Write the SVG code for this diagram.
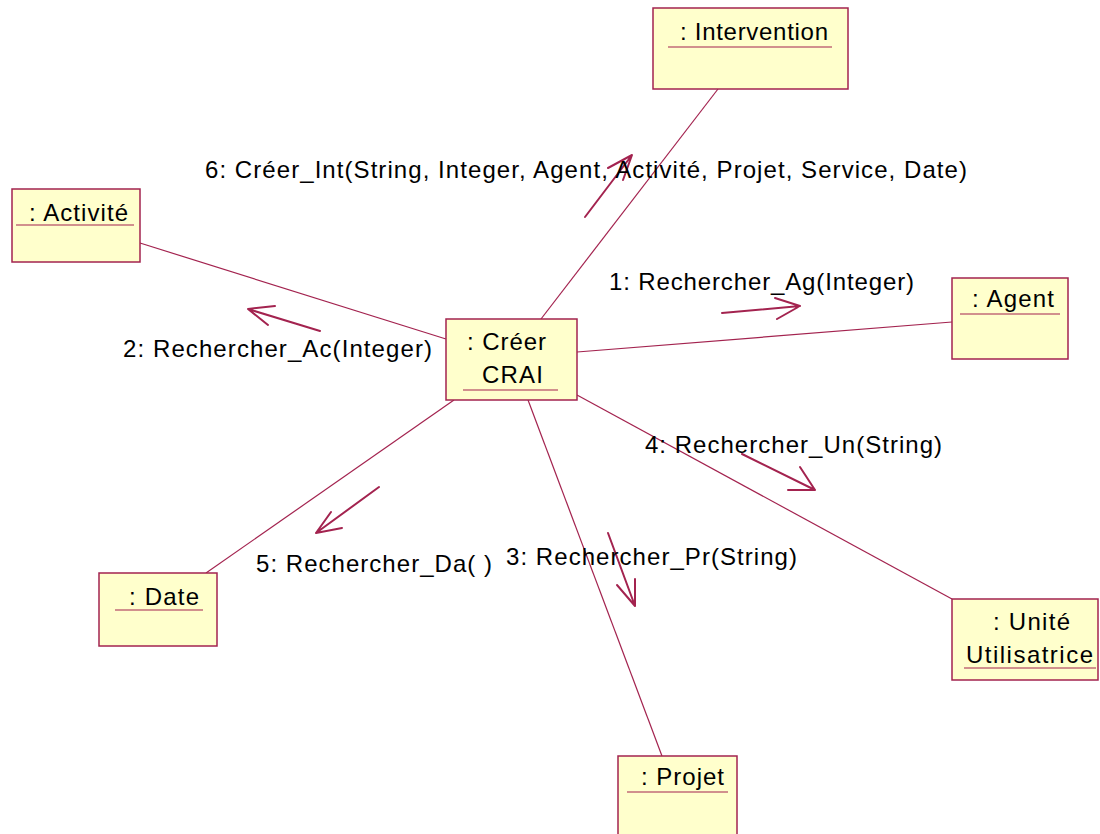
<svg xmlns="http://www.w3.org/2000/svg" width="1100" height="834" viewBox="0 0 1100 834">
<style>
.box{fill:#FFFFCC;stroke:#A3234F;stroke-width:1.5}
.ul{stroke:#A3234F;stroke-width:1.2}
.ln{stroke:#A3234F;stroke-width:1.2;fill:none}
.ar{stroke:#A3234F;stroke-width:2;fill:none;stroke-linecap:round;stroke-linejoin:round}
text{font-family:"Liberation Sans",Arial,sans-serif;font-size:24px;fill:#000}
</style>
<rect width="1100" height="834" fill="#fff"/>
<g id="connectors">
<line class="ln" x1="718" y1="89" x2="541" y2="319"/>
<line class="ln" x1="140" y1="243" x2="446" y2="339"/>
<line class="ln" x1="577" y1="352" x2="952" y2="322"/>
<line class="ln" x1="577" y1="395" x2="952" y2="599"/>
<line class="ln" x1="454" y1="400" x2="206" y2="573"/>
<line class="ln" x1="528" y1="400" x2="662" y2="756"/>
<g id="msg6"><path class="ar" d="M585,217 L632,155 M608,168 L632,155 L623,180"/><text x="205" y="178" textLength="762" lengthAdjust="spacing">6: Créer_Int(String, Integer, Agent, Activité, Projet, Service, Date)</text></g>
<g id="msg1"><path class="ar" d="M722,313 L800,306 M775,298 L800,306 L777,319"/><text x="609" y="290" textLength="305" lengthAdjust="spacing">1: Rechercher_Ag(Integer)</text></g>
<g id="msg2"><path class="ar" d="M320,331 L248,309 M275,306 L248,309 L268,325"/><text x="123" y="357" textLength="309" lengthAdjust="spacing">2: Rechercher_Ac(Integer)</text></g>
<g id="msg4"><path class="ar" d="M742,454 L815,490 M788,490 L815,490 L800,467"/><text x="645" y="453" textLength="297" lengthAdjust="spacing">4: Rechercher_Un(String)</text></g>
<g id="msg5"><path class="ar" d="M379,487 L316,533 M331,512 L316,533 L342,528"/><text x="256" y="572" textLength="236" lengthAdjust="spacing">5: Rechercher_Da( )</text></g>
<g id="msg3"><path class="ar" d="M608,533 L635,606 M617,585 L635,606 L635,579"/><text x="506" y="565" textLength="291" lengthAdjust="spacing">3: Rechercher_Pr(String)</text></g>
</g>
<g id="intervention"><rect class="box" x="653" y="8" width="195" height="81"/><text x="680" y="40" textLength="148" lengthAdjust="spacing">: Intervention</text><line class="ul" x1="668" y1="47" x2="832" y2="47"/></g>
<g id="activite"><rect class="box" x="12" y="189" width="128" height="73"/><text x="29" y="221" textLength="99" lengthAdjust="spacing">: Activité</text><line class="ul" x1="16" y1="225" x2="134" y2="225"/></g>
<g id="creer"><rect class="box" x="446" y="319" width="131" height="81"/><text x="467" y="350" textLength="79" lengthAdjust="spacing">: Créer</text><text x="482" y="383" textLength="61" lengthAdjust="spacing">CRAI</text><line class="ul" x1="463" y1="390" x2="558" y2="390"/></g>
<g id="agent"><rect class="box" x="952" y="278" width="116" height="81"/><text x="972" y="307" textLength="82" lengthAdjust="spacing">: Agent</text><line class="ul" x1="960" y1="314" x2="1060" y2="314"/></g>
<g id="unite"><rect class="box" x="952" y="599" width="146" height="81"/><text x="993" y="630" textLength="77" lengthAdjust="spacing">: Unité</text><text x="966" y="663" textLength="127" lengthAdjust="spacing">Utilisatrice</text><line class="ul" x1="964" y1="668" x2="1096" y2="668"/></g>
<g id="date"><rect class="box" x="99" y="573" width="118" height="73"/><text x="129" y="605" textLength="70" lengthAdjust="spacing">: Date</text><line class="ul" x1="115" y1="610" x2="203" y2="610"/></g>
<g id="projet"><rect class="box" x="618" y="756" width="119" height="90"/><text x="641" y="785" textLength="83" lengthAdjust="spacing">: Projet</text><line class="ul" x1="627" y1="792" x2="728" y2="792"/></g>
</svg>
